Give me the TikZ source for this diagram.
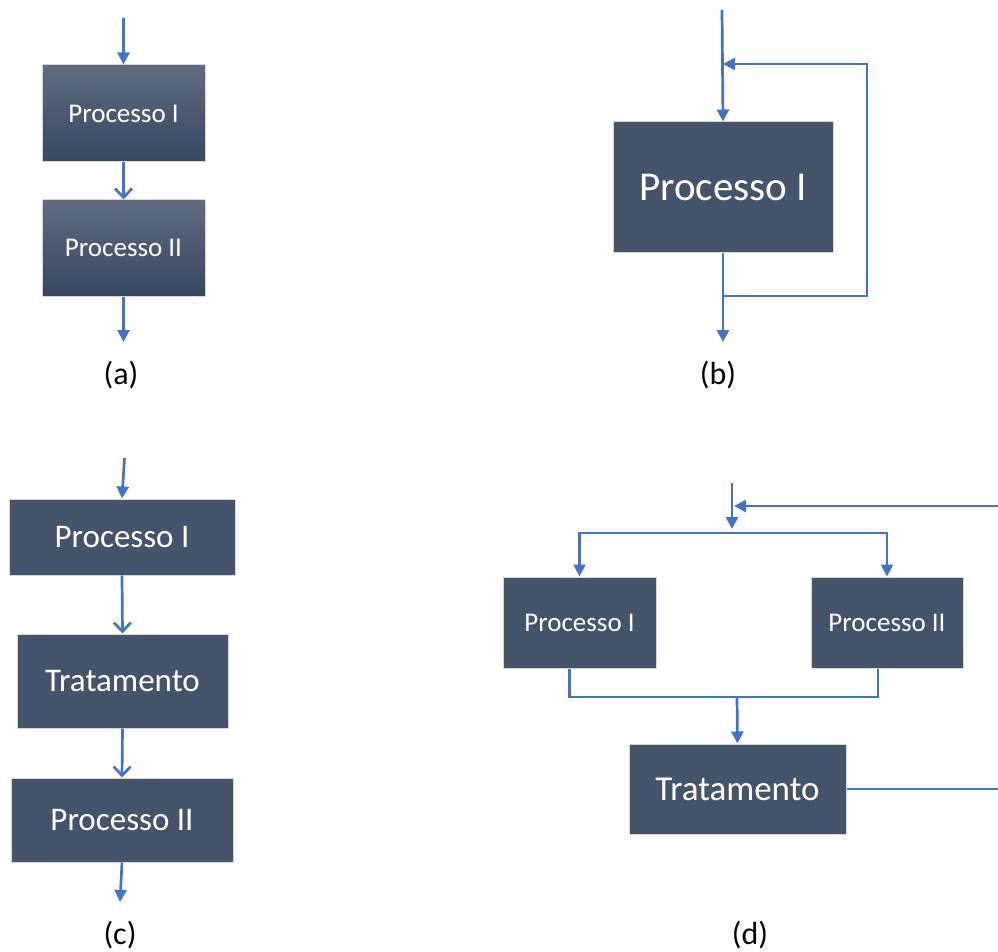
\documentclass[tikz,border=0pt]{standalone}
\usepackage{fontspec}
\setmainfont{Carlito}
\usetikzlibrary{arrows.meta,calc}
\definecolor{boxfill}{HTML}{44546A}
\definecolor{boxtop}{HTML}{5F6C80}
\definecolor{boxbot}{HTML}{374760}
\definecolor{linkblue}{HTML}{4472C4}
\definecolor{boxedge}{HTML}{D4D7DC}
\tikzset{
  procbox/.style={rectangle, fill=boxfill, draw=boxedge, line width=1pt, text=white, inner sep=0pt},
  gradbox/.style={rectangle, top color=boxtop, bottom color=boxbot, draw=boxedge, line width=1pt, text=white, inner sep=0pt},
  link/.style={draw=linkblue, line width=2.7pt},
  tri/.style={link, -{Triangle[length=12pt,width=12pt]}},
  vee/.style={link, -{Straight Barb[length=9pt,width=17pt,line width=2.7pt]}},
  caption/.style={text=black, font=\fontsize{32}{35}\selectfont},
  fsmall/.style={font=\fontsize{27}{30}\selectfont},
  fmid/.style={font=\fontsize{33}{36}\selectfont},
  fbig/.style={font=\fontsize{41}{44}\selectfont},
}
\begin{document}
\begin{tikzpicture}[x=1pt,y=-1pt]
\useasboundingbox (0,0) rectangle (998,952);
\clip (0,0) rectangle (998,952);
\fill[white] (0,0) rectangle (998,952);

% ---------- (a)
\node[gradbox, fsmall, minimum width=163pt, minimum height=97pt] (a1) at (123.5,113.5) {Processo I};
\node[gradbox, fsmall, minimum width=163pt, minimum height=96pt] (a2) at (123.5,248) {Processo II};
\coordinate (a0) at (123.5,18);
\coordinate (a3) at (123.5,342);
\draw[tri] (a0) -- (a1.north);
\draw[vee] (a1.south) -- (a2.north);
\draw[tri] (a2.south) -- (a3);
\node[caption] (la) at (121,375) {(a)};

% ---------- (b)
\node[procbox, fbig, minimum width=220pt, minimum height=130pt] (b1) at (723,187) {Processo I};
\coordinate (b0) at (722,10);
\coordinate (bj) at (723,64);
\coordinate (bc) at (867,64);
\coordinate (bd) at (867,296);
\coordinate (be) at (723,296);
\coordinate (bf) at (723,342);
\draw[tri] (b0) -- (b1.north);
\draw[tri] (be) -- (bd) -- (bc) -- (bj);
\draw[tri] (b1.south) -- (bf);
\node[caption] (lb) at (718,375) {(b)};

% ---------- (c)
\node[procbox, fmid, minimum width=226pt, minimum height=76pt] (c1) at (122,537) {Processo I};
\node[procbox, fmid, minimum width=211pt, minimum height=94pt] (c2) at (122.5,681) {Tratamento};
\node[procbox, fmid, minimum width=222pt, minimum height=84pt] (c3) at (122,820) {Processo II};
\coordinate (c0) at (124.5,458);
\coordinate (c4) at (120,902);
\draw[tri] (c0) -- (c1.north);
\draw[vee] (c1.south) -- (c2.north);
\draw[vee] (c2.south) -- (c3.north);
\draw[tri] (c3.south) -- (c4);
\node[caption] (lc) at (120,935) {(c)};

% ---------- (d)
\node[procbox, fsmall, minimum width=153pt, minimum height=91pt] (d1) at (579.5,622.5) {Processo I};
\node[procbox, fsmall, minimum width=152pt, minimum height=91pt] (d2) at (887,622.5) {Processo II};
\node[procbox, font=\fontsize{35}{38}\selectfont, minimum width=217pt, minimum height=90pt] (dt) at (737.5,789) {Tratamento};
\coordinate (d0) at (732,483);
\coordinate (dm) at (732,529);
\coordinate (ds) at (732,533);
\coordinate (dj) at (734,506);
\coordinate (dmerge) at (737,697);
\draw[tri] (d0) -- (dm);
\draw[tri] (dt.east) -- (1005,789) -- (1005,506) -- (dj);
\draw[tri] (ds) -| (d1.north);
\draw[tri] (ds) -| (d2.north);
\draw[link] ($(d1.south)+(-10,0)$) |- (dmerge);
\draw[link] ($(d2.south)+(-9,0)$) |- (dmerge);
\draw[tri] (dmerge) -- (dt.north);
\node[caption] (ld) at (750,935) {(d)};
\end{tikzpicture}
\end{document}
